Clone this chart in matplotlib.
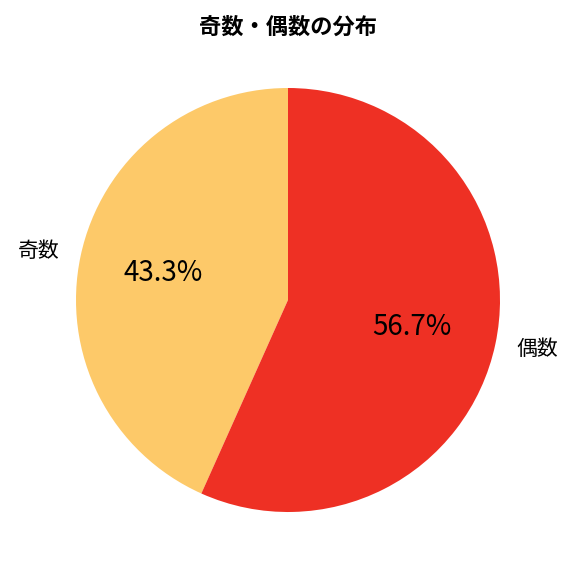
import matplotlib
matplotlib.use("Agg")
import matplotlib.pyplot as plt

plt.rcParams['font.family'] = ['Noto Sans CJK JP', 'DejaVu Sans']

labels = ["奇数", "偶数"]
shares = [43.3, 56.7]
colors = ["#FDC969", "#EE3024"]

fig = plt.figure(figsize=(5.76, 5.76), dpi=100)
# pie centred at (288, 300) px with radius ~212 px
ax = fig.add_axes([23 / 576, 11 / 576, 530 / 576, 530 / 576])
wedges, texts, autotexts = ax.pie(
    shares, labels=labels, colors=colors, startangle=90,
    autopct="%1.1f%%", textprops={"fontsize": 15},
)
for t in autotexts:
    t.set_fontsize(20)
ax.set_aspect("equal")
fig.text(0.5, 1 - 27 / 576, "奇数・偶数の分布", ha="center", va="center",
         fontsize=16, fontweight="bold")
fig.savefig("out.png")
